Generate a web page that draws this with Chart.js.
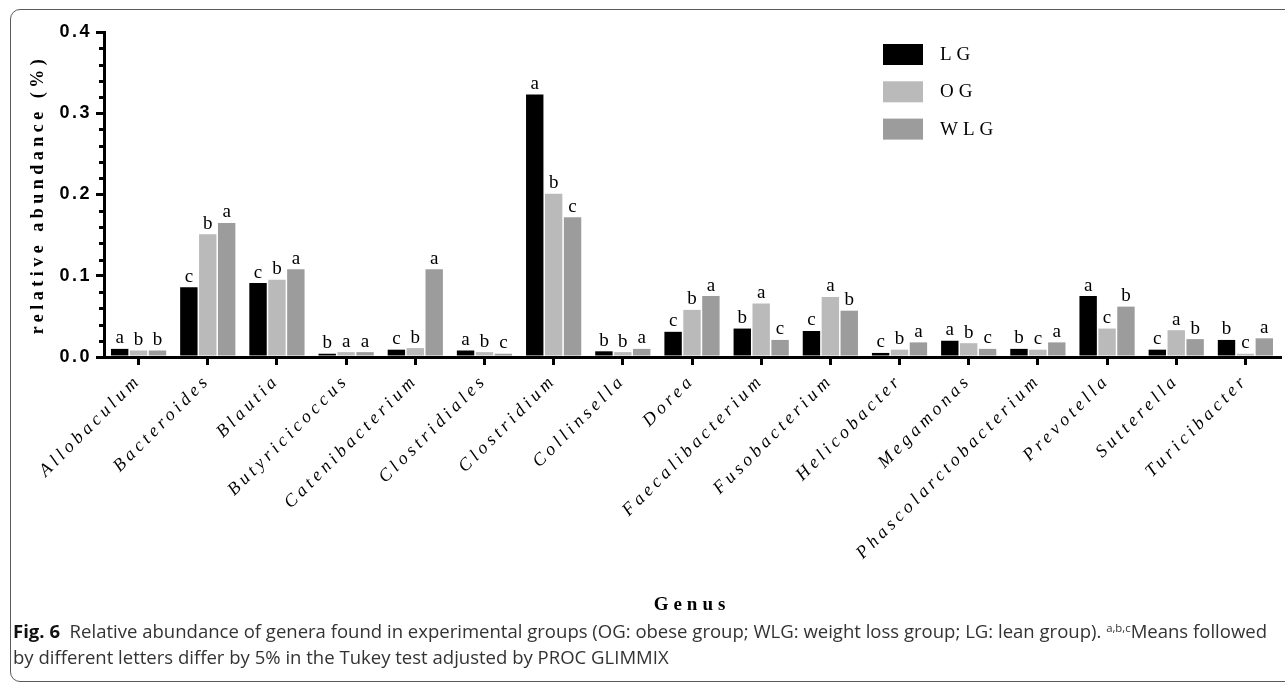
<!DOCTYPE html>
<html>
<head>
<meta charset="utf-8">
<script src="https://cdn.jsdelivr.net/npm/chart.js@4.4.1/dist/chart.umd.min.js"></script>
<style>
  html, body { margin: 0; padding: 0; background: #fff; }
  #wrap { position: relative; width: 1285px; height: 684px; overflow: hidden; }
  #frame { position: absolute; left: 10px; top: 9px; width: 1300px; height: 673px;
           border: 1.5px solid #5a5a5a; border-radius: 10px; box-sizing: border-box; }
  #myChart { position: absolute; left: 0; top: 0; }
  .cap { position: absolute; left: 13px; white-space: nowrap; transform-origin: 0 0;
         font-family: 'Open Sans', 'Liberation Sans', sans-serif;
         font-size: 18px; color: #333; }
  .cap b { color: #111; }
  .cap sup { font-size: 11px; vertical-align: 6px; line-height: 0; }
</style>
</head>
<body>
<div id="wrap">
  <canvas id="myChart" width="1285" height="684"></canvas>
  <div id="frame"></div>
  <div class="cap" id="cap1" style="top:619px"><b>Fig. 6</b>&nbsp; Relative abundance of genera found in experimental groups (OG: obese group; WLG: weight loss group; LG: lean group). <sup>a,b,c</sup>Means followed</div>
  <div class="cap" id="cap2" style="top:645px">by different letters differ by 5% in the Tukey test adjusted by PROC GLIMMIX</div>
</div>
<script>
const genera = ['Allobaculum', 'Bacteroides', 'Blautia', 'Butyricicoccus', 'Catenibacterium',
  'Clostridiales', 'Clostridium', 'Collinsella', 'Dorea', 'Faecalibacterium', 'Fusobacterium',
  'Helicobacter', 'Megamonas', 'Phascolarctobacterium', 'Prevotella', 'Sutterella', 'Turicibacter'];

const groupNames = ['LG', 'OG', 'WLG'];
const groupColors = ['#000000', '#b9bab9', '#9b9c9b'];

const lgValues  = [0.010, 0.086, 0.091, 0.004, 0.009, 0.008, 0.323, 0.007, 0.031, 0.035, 0.032, 0.005, 0.020, 0.010, 0.075, 0.009, 0.021];
const ogValues  = [0.008, 0.151, 0.095, 0.006, 0.011, 0.006, 0.201, 0.006, 0.058, 0.066, 0.074, 0.009, 0.017, 0.009, 0.035, 0.033, 0.004];
const wlgValues = [0.008, 0.165, 0.108, 0.006, 0.108, 0.004, 0.172, 0.010, 0.075, 0.021, 0.057, 0.018, 0.010, 0.018, 0.062, 0.022, 0.023];

// Tukey letters shown over each bar
const lgLetters  = ['a', 'c', 'c', 'b', 'c', 'a', 'a', 'b', 'c', 'b', 'c', 'c', 'a', 'b', 'a', 'c', 'b'];
const ogLetters  = ['b', 'b', 'b', 'a', 'b', 'b', 'b', 'b', 'b', 'a', 'a', 'b', 'b', 'c', 'c', 'a', 'c'];
const wlgLetters = ['b', 'a', 'a', 'a', 'a', 'c', 'c', 'a', 'a', 'c', 'b', 'a', 'c', 'a', 'b', 'b', 'a'];

const yTicks = [0, 0.1, 0.2, 0.3, 0.4];

const serif = "'Liberation Serif', 'Times New Roman', serif";

// canvas letterSpacing for tick labels and titles of a scale
const spaceOut = (scale, tickPx, titlePx) => {
    const ctx = scale.ctx;
    const drawLabels = scale.drawLabels.bind(scale);
    const drawTitle = scale.drawTitle.bind(scale);
    scale.drawLabels = (area) => { ctx.save(); ctx.letterSpacing = tickPx; drawLabels(area); ctx.restore(); };
    scale.drawTitle = (area) => { ctx.save(); ctx.letterSpacing = titlePx; drawTitle(area); ctx.restore(); };
};

const spacingPlugin = {
    id: 'spacing',
    beforeDraw(chart) {
        if (chart.$spaced) return;
        spaceOut(chart.scales.x, '4px', '5px');
        spaceOut(chart.scales.y, '2.5px', '4.5px');
        chart.$spaced = true;
    }
};

const minorTicks = {
    id: 'minorTicks',
    afterDraw(chart) {
        const y = chart.scales.y, ctx = chart.ctx;
        ctx.save();
        ctx.strokeStyle = '#000';
        ctx.lineWidth = 3;
        for (let i = 1; i < 20; i++) {
            if (i % 5 === 0) continue;
            const py = Math.round(y.getPixelForValue(i * 0.02)) + 0.5;
            ctx.beginPath();
            ctx.moveTo(y.right - 5, py);
            ctx.lineTo(y.right, py);
            ctx.stroke();
        }
        ctx.restore();
    }
};

const barLetters = {
    id: 'barLetters',
    afterDatasetsDraw(chart) {
        const ctx = chart.ctx;
        const letters = [lgLetters, ogLetters, wlgLetters];
        ctx.save();
        ctx.font = '19px ' + serif;
        ctx.fillStyle = '#000';
        ctx.textAlign = 'center';
        ctx.textBaseline = 'bottom';
        chart.data.datasets.forEach((ds, i) => {
            chart.getDatasetMeta(i).data.forEach((bar, j) => {
                ctx.fillText(letters[i][j], bar.x, bar.y - 1);
            });
        });
        ctx.restore();
    }
};

const boxLegend = {
    id: 'boxLegend',
    afterDraw(chart) {
        const ctx = chart.ctx;
        ctx.save();
        ctx.font = '19px ' + serif;
        ctx.letterSpacing = '5px';
        ctx.textBaseline = 'middle';
        chart.data.datasets.forEach((ds, i) => {
            const top = 44 + i * 37.3;
            ctx.fillStyle = ds.backgroundColor;
            ctx.fillRect(883, top, 40, 21);
            ctx.fillStyle = '#000';
            ctx.fillText(ds.label, 940, top + 11);
        });
        ctx.restore();
    }
};

const renderChart = () => {
    const values = [lgValues, ogValues, wlgValues];
    new Chart(document.getElementById('myChart'), {
        type: 'bar',
        data: {
            labels: genera,
            datasets: groupNames.map((name, i) => ({
                label: name,
                data: values[i],
                backgroundColor: groupColors[i],
                borderWidth: 0,
                categoryPercentage: 0.82,
                barPercentage: 0.92,
            })),
        },
        options: {
            responsive: false,
            animation: false,
            layout: { padding: { top: 32, right: 5, bottom: 0, left: 0 } },
            plugins: { legend: { display: false }, tooltip: { enabled: false } },
            scales: {
                x: {
                    afterFit: (s) => { s.height = 327; },
                    grid: { drawOnChartArea: false, offset: false, tickLength: 8, lineWidth: 3, color: '#000' },
                    border: { display: true, width: 3, color: '#000' },
                    ticks: {
                        autoSkip: false, minRotation: 45, maxRotation: 45, padding: 5,
                        color: '#000', font: { family: serif, size: 18, style: 'italic' },
                    },
                    title: {
                        display: true, text: 'Genus', color: '#000',
                        font: { family: serif, size: 19, weight: 'bold' },
                        padding: { top: 0, bottom: 68 },
                    },
                },
                y: {
                    min: 0,
                    max: 0.4,
                    afterFit: (s) => { s.width = 104; },
                    afterBuildTicks: (s) => { s.ticks = yTicks.map(v => ({ value: v })); },
                    grid: { drawOnChartArea: false, tickLength: 8, lineWidth: 3, color: '#000' },
                    border: { display: true, width: 3, color: '#000' },
                    ticks: {
                        padding: 4, color: '#000',
                        font: { family: "'Liberation Sans', Arial, sans-serif", size: 18, weight: 'bold' },
                        callback: (v) => Number(v).toFixed(1),
                    },
                    title: {
                        display: true, text: 'relative abundance (%)', color: '#000',
                        font: { family: serif, size: 18, weight: 'bold' },
                        padding: { top: 28, bottom: 0 },
                    },
                },
            },
        },
        plugins: [spacingPlugin, minorTicks, barLetters, boxLegend],
    });
};

renderChart();

// fit the caption to the frame width
const cap1 = document.getElementById('cap1');
const k = 1254 / cap1.getBoundingClientRect().width;
document.querySelectorAll('.cap').forEach(el => { el.style.transform = 'scaleX(' + k + ')'; });
</script>
</body>
</html>
